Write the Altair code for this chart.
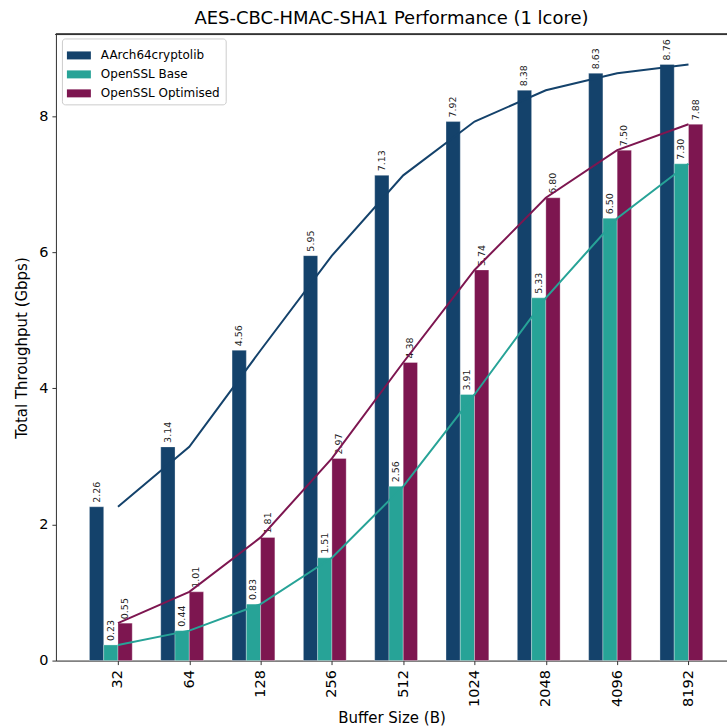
import altair as alt
import pandas as pd

buffer_sizes = ["32", "64", "128", "256", "512", "1024", "2048", "4096", "8192"]
series_names = ["AArch64cryptolib", "OpenSSL Base", "OpenSSL Optimised"]
aarch64 = [2.26, 3.14, 4.56, 5.95, 7.13, 7.92, 8.38, 8.63, 8.76]
openssl_base = [0.23, 0.44, 0.83, 1.51, 2.56, 3.91, 5.33, 6.50, 7.30]
openssl_opt = [0.55, 1.01, 1.81, 2.97, 4.38, 5.74, 6.80, 7.50, 7.88]
colors = ["#14426b", "#27a397", "#7d1650"]

bar_width = 0.2
offsets = [-0.4, -0.2, 0.0]

rows = []
for s, vals, off in zip(series_names, [aarch64, openssl_base, openssl_opt], offsets):
    for i, (b, v) in enumerate(zip(buffer_sizes, vals)):
        rows.append({"idx": i, "buffer": b, "series": s, "value": v,
                     "x0": i + off, "x1": i + off + bar_width,
                     "xc": i + off + bar_width / 2})
df = pd.DataFrame(rows)

FONT = "DejaVu Sans"
xscale = alt.Scale(domain=[-0.87, 8.54], nice=False, zero=False)
yscale = alt.Scale(domain=[0, 9.2], nice=False)
color = alt.Color("series:N", scale=alt.Scale(domain=series_names, range=colors),
                  sort=series_names,
                  legend=alt.Legend(title=None, orient="none", legendX=6, legendY=4,
                                    fillColor="white", strokeColor="#cccccc",
                                    cornerRadius=3, padding=5,
                                    symbolType="M-1,-0.333H1V0.333H-1Z",
                                    symbolSize=576, symbolStrokeWidth=0,
                                    labelFontSize=12, labelFont=FONT,
                                    labelColor="#000000", rowPadding=1,
                                    symbolOpacity=1, labelOffset=10))

label_expr = "[" + ",".join("'%s'" % b for b in buffer_sizes) + "][datum.value]"

base = alt.Chart(df)

bars = base.mark_rect(stroke="#ffffff", strokeWidth=0.6, strokeOpacity=0.5).encode(
    x=alt.X("x0:Q", scale=xscale,
            axis=alt.Axis(values=list(range(len(buffer_sizes))), labelExpr=label_expr,
                          labelAngle=270, labelFontSize=14.5, labelFont=FONT,
                          labelColor="#000000", grid=False, domainColor="#333333",
                          tickColor="#333333", tickSize=4, labelPadding=5,
                          title="Buffer Size (B)", titleFontSize=15,
                          titleFont=FONT, titleFontWeight="normal",
                          titleColor="#000000", titlePadding=4,
                          labelAlign="right", labelBaseline="middle")),
    x2="x1:Q",
    y=alt.Y("value:Q", scale=yscale,
            axis=alt.Axis(values=[0, 2, 4, 6, 8], format="d", grid=False,
                          labelFontSize=14.5, labelFont=FONT, labelColor="#000000",
                          domainColor="#333333", tickColor="#333333", tickSize=4,
                          labelPadding=4, title="Total Throughput (Gbps)",
                          titleFontSize=15, titleFont=FONT,
                          titleFontWeight="normal", titleColor="#000000",
                          titlePadding=9)),
    y2=alt.datum(0),
    color=color,
)

labels = base.mark_text(angle=270, align="left", baseline="middle", dx=4,
                        fontSize=9.5, font=FONT, color="#222222").encode(
    x=alt.X("xc:Q", scale=xscale),
    y=alt.Y("value:Q", scale=yscale),
    text=alt.Text("value:Q", format=".2f"),
)

lines = base.mark_line(strokeWidth=2).encode(
    x=alt.X("idx:Q", scale=xscale),
    y=alt.Y("value:Q", scale=yscale),
    color=alt.Color("series:N", scale=alt.Scale(domain=series_names, range=colors),
                    legend=None),
    detail="series:N",
)

top_spine = alt.Chart(df).mark_rule(color="#333333", strokeWidth=1).encode(
    x=alt.value(0), x2=alt.value(672), y=alt.value(0)
)

chart = alt.layer(bars, labels, lines, top_spine).properties(
    width=672, height=627,
    title=alt.TitleParams("AES-CBC-HMAC-SHA1 Performance (1 lcore)", fontSize=18,
                          font=FONT, fontWeight="normal", color="#000000",
                          offset=6),
    autosize=alt.AutoSizeParams(type="none"),
    padding={"left": 56, "top": 34, "right": 0, "bottom": 65},
).configure_view(stroke=None).configure(background="white")

chart.save("out.html", embed_options={"renderer": "svg", "actions": False})
